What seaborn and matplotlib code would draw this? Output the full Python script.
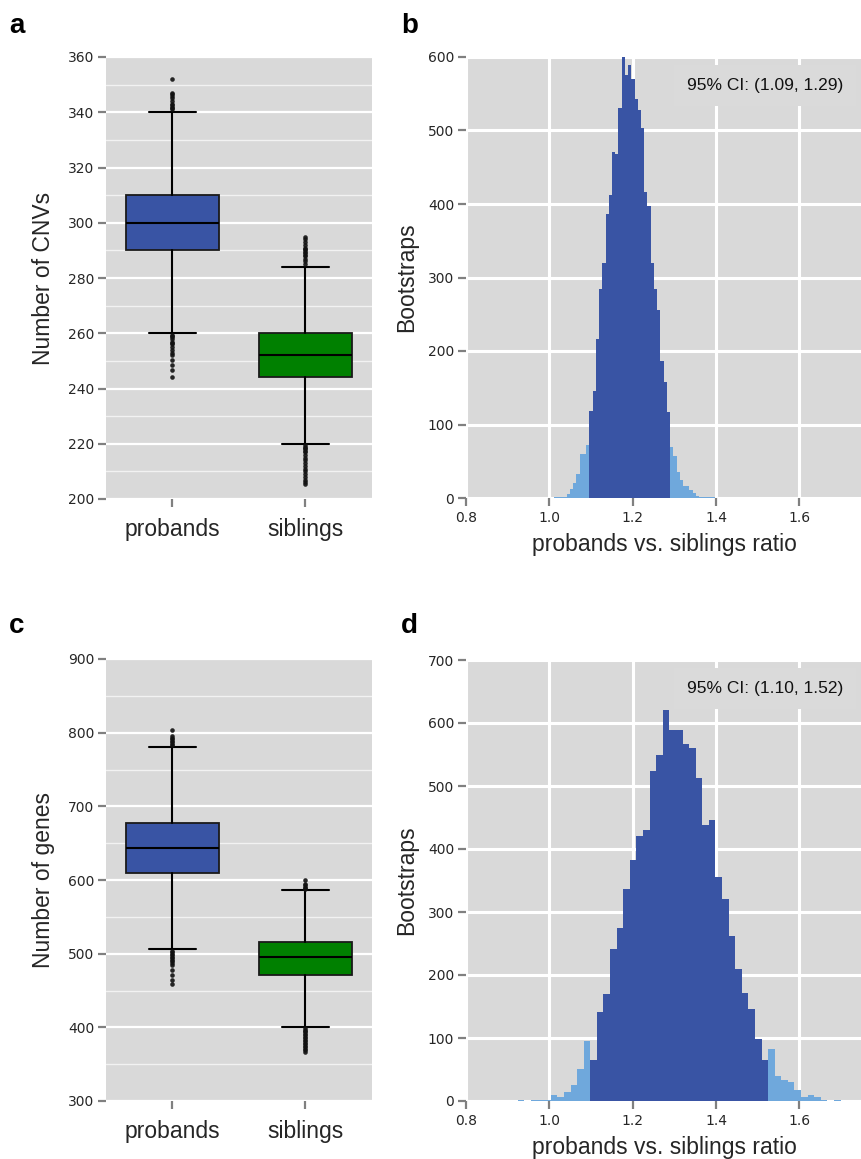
import numpy as np
import pandas as pd
import matplotlib
matplotlib.use("Agg")
import matplotlib.pyplot as plt
from matplotlib.ticker import MultipleLocator
import seaborn as sns

# ---------------- data ----------------
groups = ["probands", "siblings"]

# panel a: Number of CNVs (box summaries)
cnv_q1 = [290, 244]
cnv_med = [300, 252]
cnv_q3 = [310, 260]
cnv_whislo = [260, 220]
cnv_whishi = [340, 284]
cnv_fliers_probands = [352, 347, 346.5, 346, 345, 344, 343, 342.5, 342, 341.5, 341,
                       259.5, 259, 258.5, 258, 257, 256.5, 256, 255, 254, 253, 252,
                       250.3, 248.5, 246.7, 244]
cnv_fliers_siblings = [295, 294, 293, 292, 291, 290.5, 290, 289.5, 289, 288.5, 288, 287,
                       286, 285, 219.5, 219, 218.5, 218, 217.5, 217, 216, 215, 214, 213,
                       212, 211, 210, 209, 208, 207, 206, 205.3]

# panel c: Number of genes (box summaries)
gene_q1 = [609, 471]
gene_med = [644, 495]
gene_q3 = [678, 516]
gene_whislo = [506, 401]
gene_whishi = [780, 586]
gene_fliers_probands = [803.6, 795, 793, 791, 789, 787, 785, 783,
                        504, 502, 500, 498, 496, 494, 492, 490, 488, 485, 478, 471, 464, 459]
gene_fliers_siblings = [600, 595, 593, 591, 589, 588,
                        399, 397, 395, 393, 391, 389, 387, 385, 383, 381, 379, 377, 375,
                        373, 371, 369, 367]

# panel b: bootstrap ratio histogram (CNVs)
b_bin_start = 1.0108
b_bin_width = 0.007744
b_low_tail = [1, 2, 2, 1, 5, 12, 21, 32, 60, 60, 72]
b_inside_ci = [119, 145, 217, 284, 320, 387, 412, 471, 468, 531, 600, 576, 589, 570,
               543, 528, 504, 416, 397, 320, 284, 256, 186, 158, 117]
b_high_tail = [69, 57, 35, 25, 16, 16, 11, 7, 3, 2, 2, 1, 1, 1]
b_ci_text = "95% CI: (1.09, 1.29)"

# panel d: bootstrap ratio histogram (genes)
d_bin_start = 0.9244
d_bin_width = 0.0158
d_low_tail = [1, 0, 1, 1, 2, 9, 7, 14, 25, 51, 95]
d_inside_ci = [65, 142, 170, 242, 275, 336, 382, 420, 430, 524, 550, 621, 589, 589,
               566, 560, 512, 438, 446, 356, 320, 262, 209, 172, 146, 99, 65]
d_high_tail = [83, 39, 34, 30, 17, 7, 9, 6, 2, 0, 1]
d_ci_text = "95% CI: (1.10, 1.52)"

# ---------------- style ----------------
BG = "#D9D9D9"
DARK = "#3954A4"
LIGHT = "#6FA8DC"
GREEN = "#008000"
TICKC = "#808080"

sns.set_theme(style="darkgrid", rc={"axes.facecolor": BG, "grid.color": "white"})
plt.rcParams["font.family"] = ["Liberation Sans", "DejaVu Sans"]
plt.rcParams["axes.edgecolor"] = BG

fig = plt.figure(figsize=(8.62, 11.59), dpi=100)
W, H = 862.0, 1159.0


def add_ax(left, right, top, bottom):
    return fig.add_axes([left / W, 1 - bottom / H, (right - left) / W, (bottom - top) / H])


def style_ticks(ax, xpad, ypad):
    for s in ax.spines.values():
        s.set_visible(False)
    ax.tick_params(axis="both", which="major", direction="out", length=5.5, width=1.6,
                   color=TICKC, left=True, bottom=True)
    ax.tick_params(axis="x", pad=xpad)
    ax.tick_params(axis="y", pad=ypad, labelsize=10)
    for lab in ax.get_yticklabels():
        lab.set_fontfamily("DejaVu Sans")


def box_panel(ax, q1, med, q3, wlo, whi, fl_p, fl_s, ylim, major, minor, ylabel):
    fliers = [fl_p, fl_s]
    stats = []
    for i in range(2):
        stats.append(dict(med=med[i], q1=q1[i], q3=q3[i], whislo=wlo[i], whishi=whi[i],
                          fliers=fliers[i], label=groups[i]))
    bp = ax.bxp(stats, positions=[0, 1], widths=0.7, patch_artist=True, showfliers=True,
                capwidths=0.36,
                boxprops=dict(linewidth=1.3, edgecolor="#1a1a1a"),
                medianprops=dict(color="black", linewidth=1.5),
                whiskerprops=dict(color="black", linewidth=1.5),
                capprops=dict(color="black", linewidth=1.5),
                flierprops=dict(marker="o", markerfacecolor="#111111",
                                markeredgecolor="none", markersize=3.3, alpha=0.9))
    for patch, c in zip(bp["boxes"], [DARK, GREEN]):
        patch.set_facecolor(c)
    ax.set_xlim(-0.5, 1.5)
    ax.set_ylim(*ylim)
    ax.yaxis.set_major_locator(MultipleLocator(major))
    ax.yaxis.set_minor_locator(MultipleLocator(minor))
    ax.grid(False)
    ax.grid(axis="y", which="major", color="white", linewidth=1.6)
    ax.grid(axis="y", which="minor", color="#F2F2F2", linewidth=1.0)
    ax.set_axisbelow(True)
    ax.set_xticks([0, 1])
    ax.set_xticklabels(groups, fontsize=16.5)
    style_ticks(ax, xpad=8, ypad=3)
    ax.tick_params(axis="y", which="minor", left=False)
    ax.set_ylabel(ylabel, fontsize=16.5)
    ax.yaxis.set_label_coords(-0.19, 0.5)


def hist_panel(ax, start, width, low, inside, high, ymax, ci_text):
    counts = np.array(low + inside + high, dtype=float)
    n = len(counts)
    edges = start + width * np.arange(n + 1)
    centers = (edges[:-1] + edges[1:]) / 2
    df = pd.DataFrame({"ratio": centers, "count": counts})
    sns.histplot(data=df, x="ratio", weights="count", binwidth=width,
                 binrange=(float(edges[0]), float(edges[-1])), element="step", fill=True,
                 color=LIGHT, alpha=1, linewidth=0, ax=ax)
    i0, i1 = len(low), len(low) + len(inside)
    sub = df.iloc[i0:i1]
    sns.histplot(data=sub, x="ratio", weights="count", binwidth=width,
                 binrange=(float(edges[i0]), float(edges[i1])), element="step", fill=True,
                 color=DARK, alpha=1, linewidth=0, ax=ax)
    ax.set_xlim(0.8, 1.75)
    ax.set_ylim(0, ymax)
    ax.xaxis.set_major_locator(MultipleLocator(0.2))
    ax.yaxis.set_major_locator(MultipleLocator(100))
    ax.grid(True, color="white", linewidth=2.2)
    ax.set_axisbelow(True)
    style_ticks(ax, xpad=4, ypad=3)
    for lab in ax.get_xticklabels():
        lab.set_fontfamily("DejaVu Sans")
        lab.set_fontsize(10)
    ax.set_xlabel("probands vs. siblings ratio", fontsize=16.5)
    ax.xaxis.set_label_coords(0.5, -0.08)
    ax.set_ylabel("Bootstraps", fontsize=16.5)
    ax.yaxis.set_label_coords(-0.12, 0.5)
    ax.text(0.953, 0.935, ci_text, transform=ax.transAxes, ha="right", va="center",
            fontsize=12.5, color="#111111",
            bbox=dict(boxstyle="square,pad=0.75", facecolor="#DADADA", edgecolor="none"))


ax_a = add_ax(106, 372, 57, 499)
box_panel(ax_a, cnv_q1, cnv_med, cnv_q3, cnv_whislo, cnv_whishi,
          cnv_fliers_probands, cnv_fliers_siblings, (200, 360), 20, 10, "Number of CNVs")

ax_b = add_ax(466, 862, 57, 498)
hist_panel(ax_b, b_bin_start, b_bin_width, b_low_tail, b_inside_ci, b_high_tail, 600, b_ci_text)

ax_c = add_ax(106, 372, 659, 1101)
box_panel(ax_c, gene_q1, gene_med, gene_q3, gene_whislo, gene_whishi,
          gene_fliers_probands, gene_fliers_siblings, (300, 900), 100, 50, "Number of genes")

ax_d = add_ax(466, 862, 660, 1101)
hist_panel(ax_d, d_bin_start, d_bin_width, d_low_tail, d_inside_ci, d_high_tail, 700, d_ci_text)

for letter, x, y in [("a", 9, 33), ("b", 401, 33), ("c", 9, 633), ("d", 401, 633)]:
    fig.text(x / W, 1 - y / H, letter, fontsize=20, fontweight="bold", ha="left",
             va="baseline", color="black")

fig.savefig("out.png", dpi=100)
